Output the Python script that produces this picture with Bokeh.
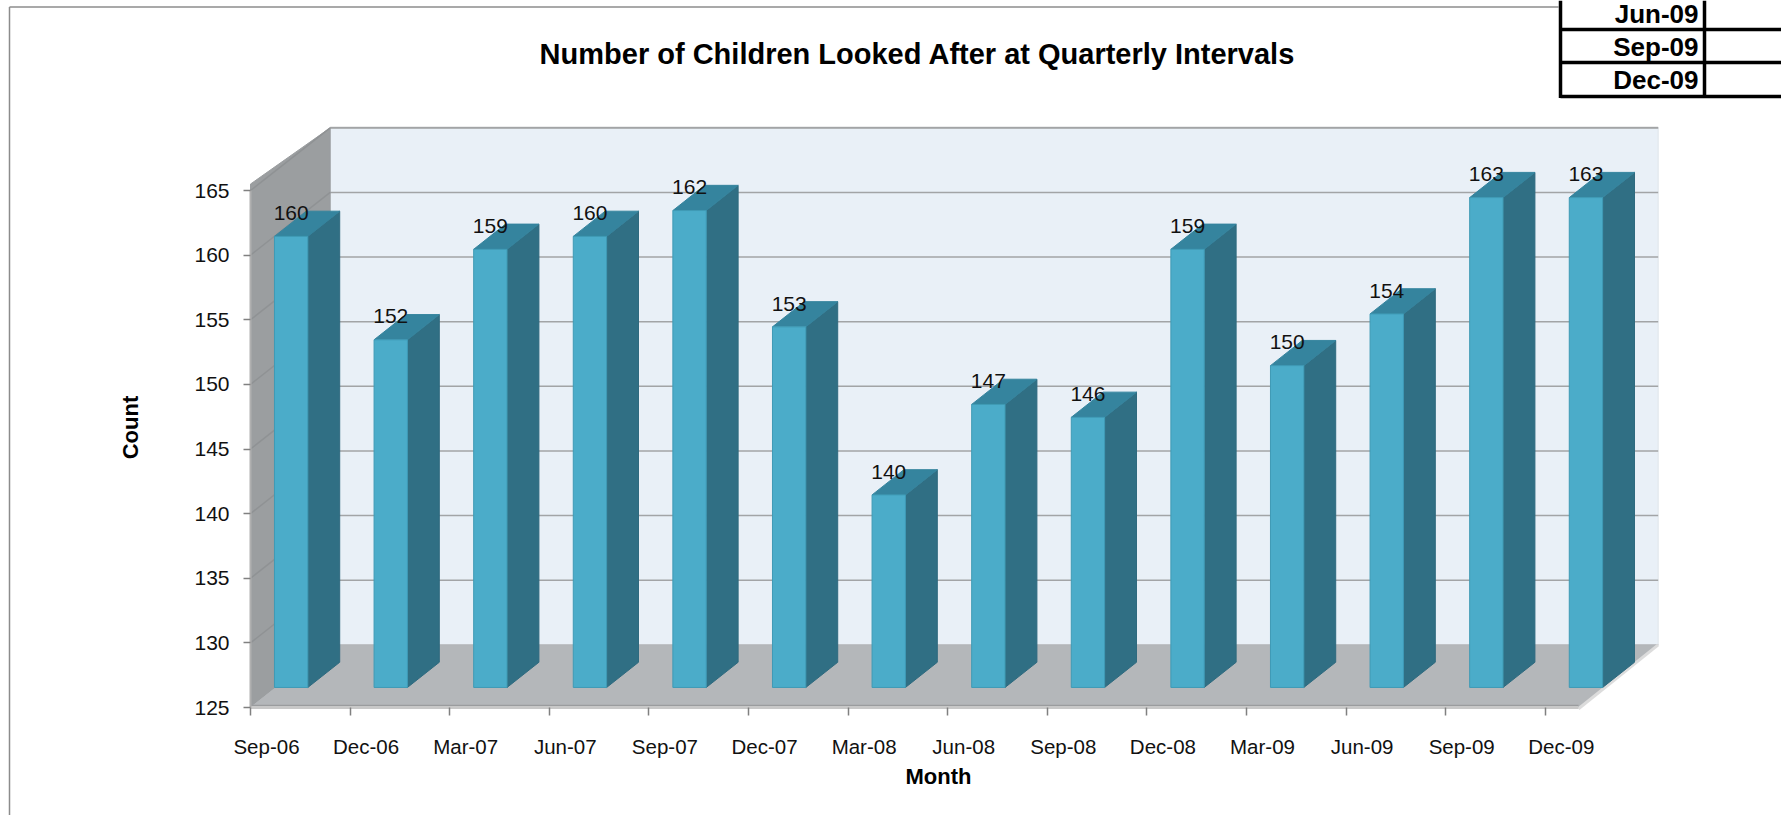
from bokeh.plotting import figure
from bokeh.models import LinearAxis, FixedTicker, Range1d, Label
from bokeh.core.properties import value
from bokeh.embed import file_html
from bokeh.resources import INLINE

months = ["Sep-06","Dec-06","Mar-07","Jun-07","Sep-07","Dec-07","Mar-08","Jun-08","Sep-08","Dec-08","Mar-09","Jun-09","Sep-09","Dec-09"]
counts = [160,152,159,160,162,153,140,147,146,159,150,154,163,163]
y_ticks = [125,130,135,140,145,150,155,160,165]
table_rows = ["Jun-09","Sep-09","Dec-09"]

W, H = 1781, 815
SX, SY = 99.6, 12.925        # pixels per category / per count
X0PX, Y0PX = 267, 707        # where category 0 and count 125 sit
FONT = "Liberation Sans"

def xd(px): return (px - X0PX) / SX
def yd(px): return 125 + (Y0PX - px) / SY

p = figure(width=W, height=H, output_backend="svg", toolbar_location=None,
           x_range=Range1d(xd(0), xd(W)), y_range=Range1d(yd(H), yd(0)),
           min_border=0, min_border_left=0, min_border_right=0, min_border_top=0, min_border_bottom=0,
           x_axis_type=None, y_axis_type=None, outline_line_color=None, background_fill_color="white")
p.margin = (0, 0, 0, 0)
p.grid.visible = False

left, right = xd(250), xd(1578)
dx, dy = 0.80, 4.85          # depth of the 3-D box
base, top = 125, 165

# back wall
p.patch([left+dx, right+dx, right+dx, left+dx], [base+dy, base+dy, top+dy, top+dy],
        fill_color="#e9f0f7", line_color="#dfe4ea", line_width=1)
p.segment([left+dx], [top+dy], [right+dx], [top+dy], line_color="#b4b6b8", line_width=2)
grid_vals = y_ticks[1:]
p.segment([left+dx]*len(grid_vals), [v+dy for v in grid_vals], [right+dx]*len(grid_vals), [v+dy for v in grid_vals],
          line_color="#a2a4a6", line_width=1.5)
# left wall
p.patch([left, left+dx, left+dx, left], [base, base+dy, top+dy, top+0.5],
        fill_color="#9b9ea0", line_color="#9b9ea0", line_width=1)
p.segment([left]*len(grid_vals), grid_vals, [left+dx]*len(grid_vals), [v+dy for v in grid_vals],
          line_color="#8f9294", line_width=1.5)
# floor
p.patch([left, right, right+dx, left+dx], [base, base, base+dy, base+dy],
        fill_color="#b4b7ba", line_color="#b4b7ba", line_width=1)
p.segment([right], [base-0.1], [right+dx], [base+dy], line_color="#dcdcdc", line_width=3)
p.segment([left], [base+0.15], [right], [base+0.15], line_color="#9a9c9e", line_width=1.5)

# bars
bw, bo, bb, bdx, bdy = 0.335, 0.07, 126.55, 0.32, 1.95
for i, c in enumerate(counts):
    t = c + (bb - 125) - 0.1
    xl, xr = i + bo, i + bo + bw
    p.patch([xr, xr+bdx, xr+bdx, xr], [bb, bb+bdy, t+bdy, t], fill_color="#306f84", line_color="#2f6a7f", line_width=1)
    p.patch([xl, xr, xr+bdx, xl+bdx], [t, t, t+bdy, t+bdy], fill_color="#35849e", line_color="#35849e", line_width=1)
    p.patch([xl, xr, xr, xl], [bb, bb, t, t], fill_color="#4bacc9", line_color="#3f9ab5", line_width=1)

# data labels
p.text([i + bo + bw/2 for i in range(len(counts))], [c + (bb-125) for c in counts],
       text=[str(c) for c in counts], text_font=value(FONT), text_font_size="21px", text_color="#111111",
       text_align="center", text_baseline="middle", y_offset=-22)

# axes
ya = LinearAxis(fixed_location=left, bounds=(125, 165), ticker=FixedTicker(ticks=y_ticks))
ya.axis_line_color = "#b0b0b0"; ya.axis_line_width = 2
ya.major_tick_line_color = "#808080"; ya.major_tick_line_width = 1.5
ya.major_tick_out = 7; ya.major_tick_in = 0; ya.minor_tick_out = 0; ya.minor_tick_in = 0
ya.major_label_text_font = FONT; ya.major_label_text_font_size = "21px"; ya.major_label_text_color = "#111111"
ya.major_label_standoff = 14
p.add_layout(ya, "left")

tick_pos = [i - 0.17 for i in range(len(months))]
xa = LinearAxis(fixed_location=125, bounds=(left, right), ticker=FixedTicker(ticks=tick_pos))
xa.axis_line_color = "#c8c8c8"; xa.axis_line_width = 3
xa.major_tick_line_color = "#808080"; xa.major_tick_line_width = 1.5
xa.major_tick_out = 8; xa.major_tick_in = 0; xa.minor_tick_out = 0; xa.minor_tick_in = 0
xa.major_label_text_color = None; xa.major_label_text_font_size = "1px"
p.add_layout(xa, "below")

label_pos = [i - 0.01 for i in range(len(months))]
xb = LinearAxis(fixed_location=125, ticker=FixedTicker(ticks=label_pos),
                major_label_overrides={q: m for q, m in zip(label_pos, months)})
xb.axis_line_color = None; xb.major_tick_line_color = None; xb.minor_tick_line_color = None
xb.major_tick_out = 0; xb.major_tick_in = 0
xb.major_label_text_font = FONT; xb.major_label_text_font_size = "20.5px"; xb.major_label_text_color = "#111111"
xb.major_label_standoff = 27
p.add_layout(xb, "below")

# titles
p.add_layout(Label(x=xd(917), y=yd(53), text="Number of Children Looked After at Quarterly Intervals",
                   text_font=FONT, text_font_style="bold", text_font_size="29px", text_color="#000000",
                   text_align="center", text_baseline="middle"))
p.add_layout(Label(x=xd(938), y=yd(776), text="Month", text_font=FONT, text_font_style="bold",
                   text_font_size="22px", text_color="#000000", text_align="center", text_baseline="middle"))
p.add_layout(Label(x=xd(130), y=yd(427), text="Count", text_font=FONT, text_font_style="bold", angle=90, angle_units="deg",
                   text_font_size="22px", text_color="#000000", text_align="center", text_baseline="middle"))

# outer chart frame
p.line([xd(9), xd(9)], [yd(H), yd(6.5)], line_color="#8c8c8c", line_width=1.5)
p.line([xd(9), xd(1558)], [yd(6.5), yd(6.5)], line_color="#8c8c8c", line_width=1.5)

# spreadsheet fragment, top right
tx0, tx1, txm = 1560, 1781, 1704
for py in (29, 62, 96):
    p.line([xd(tx0), xd(tx1)], [yd(py), yd(py)], line_color="black", line_width=3.5)
p.line([xd(tx0), xd(tx0)], [yd(0), yd(97.5)], line_color="black", line_width=3.5)
p.line([xd(txm), xd(txm)], [yd(0), yd(97.5)], line_color="black", line_width=3.5)
p.text([xd(1698)]*3, [yd(13), yd(46), yd(79)], text=table_rows, text_font=value(FONT), text_font_style="bold",
       text_font_size="26px", text_color="black", text_align="right", text_baseline="middle")

open("out.html", "w").write(file_html(p, INLINE))
